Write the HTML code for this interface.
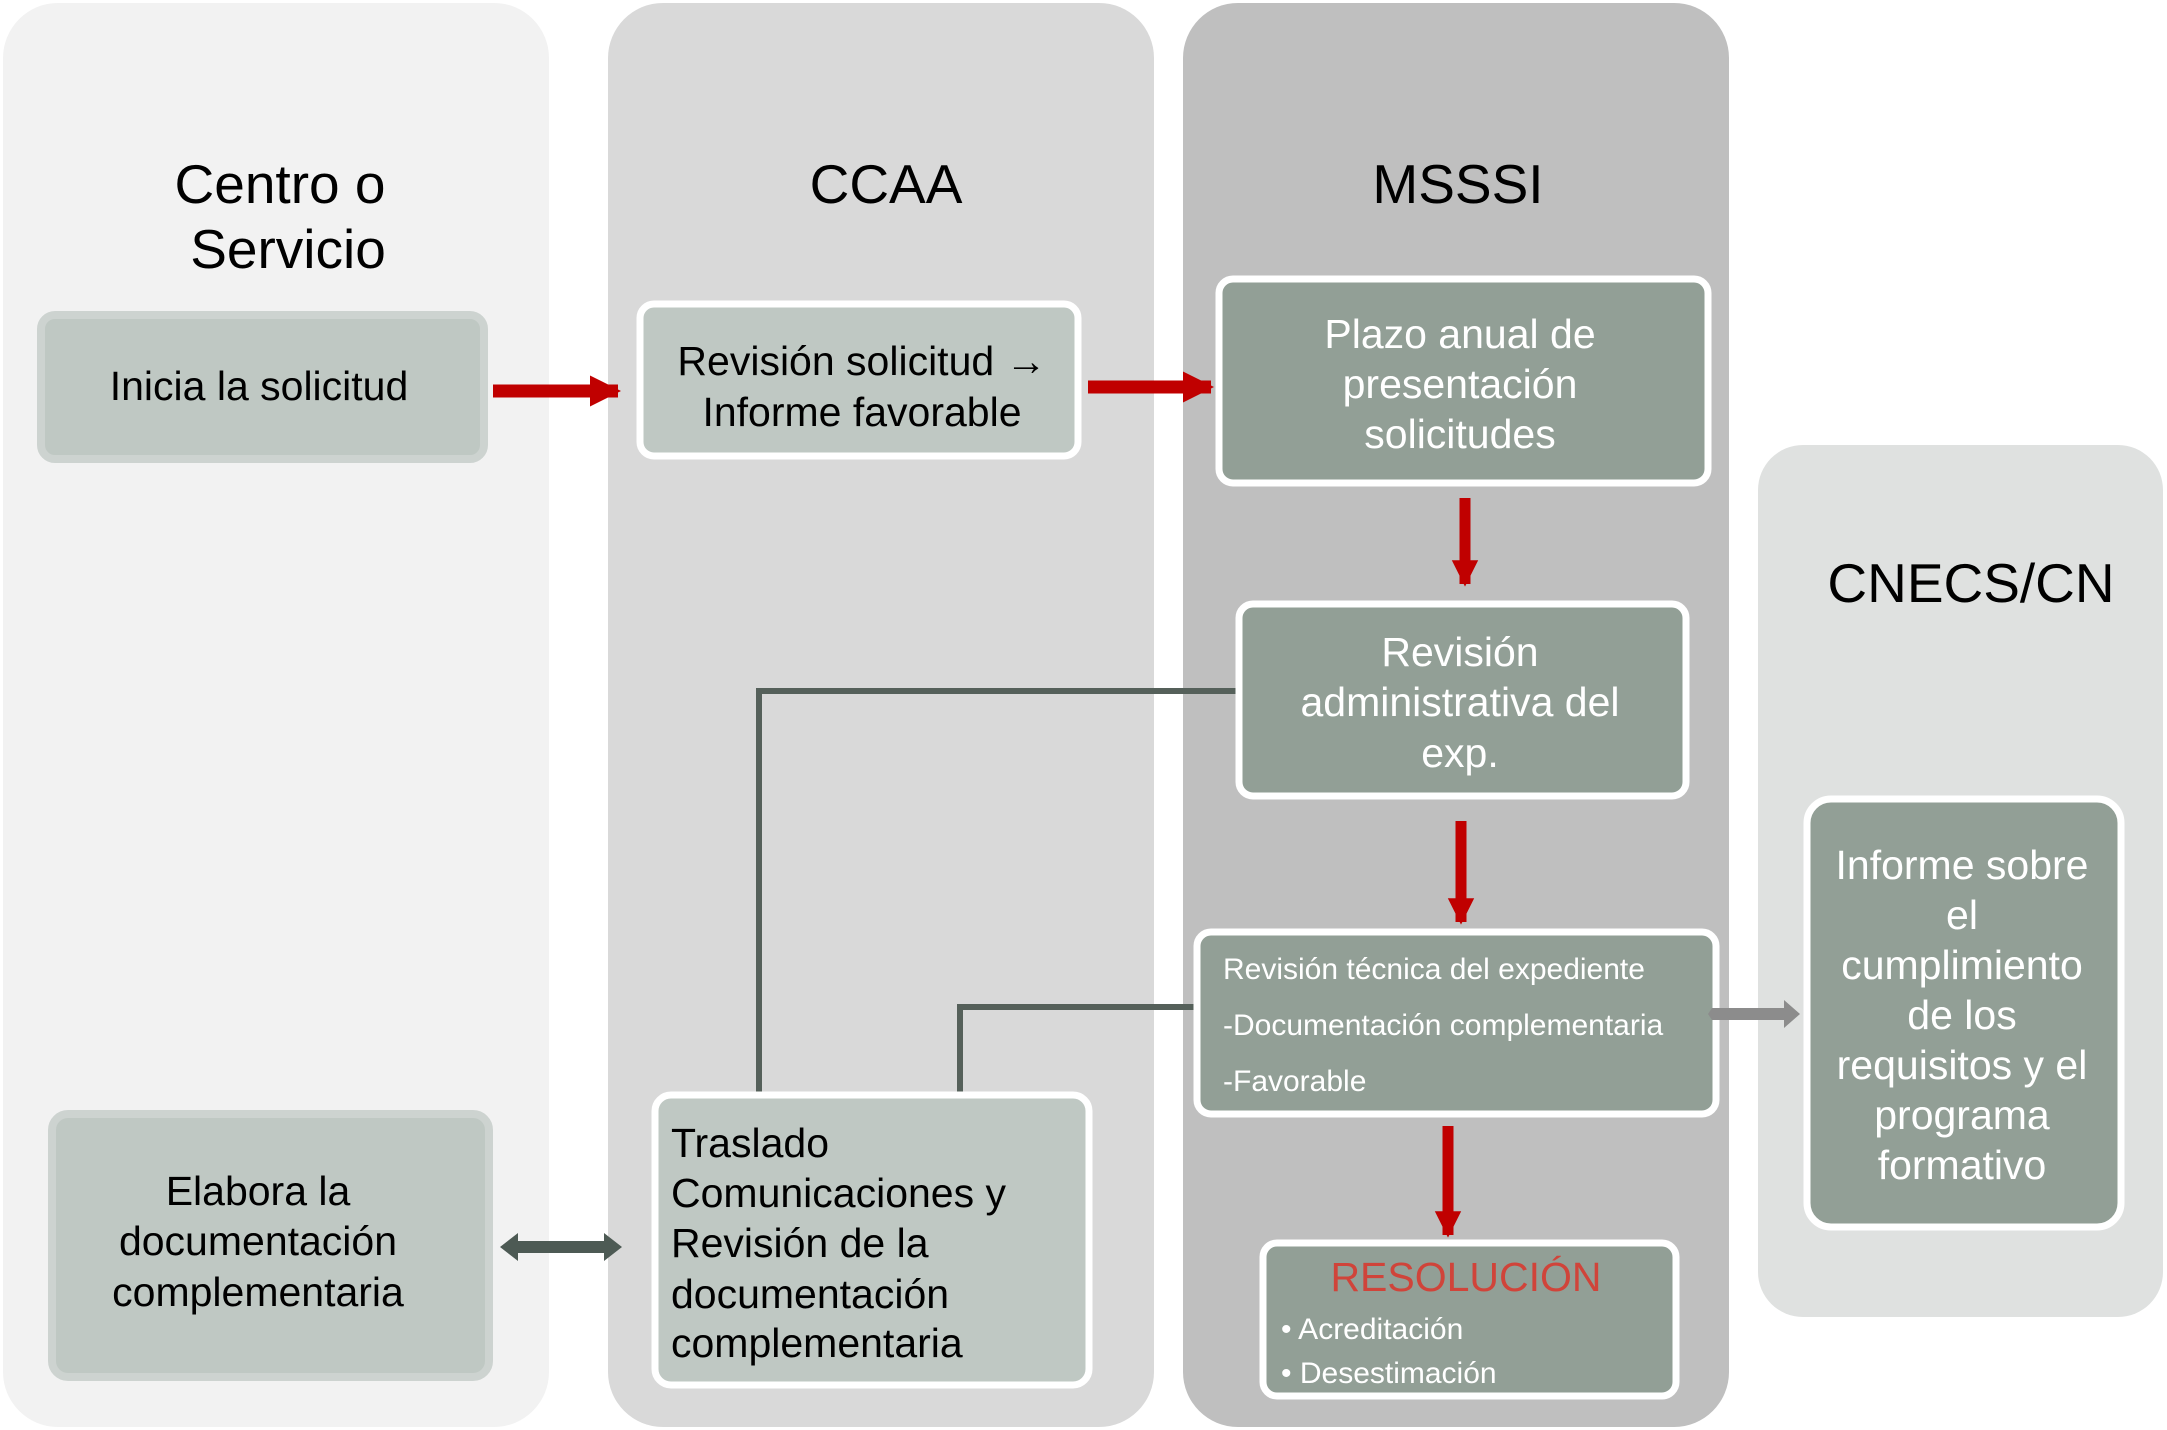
<!DOCTYPE html>
<html><head><meta charset="utf-8"><style>
html,body{margin:0;padding:0;background:#fff;}
svg{display:block;}
text{font-family:"Liberation Sans",Arial,sans-serif;}
</style></head><body>
<svg width="2167" height="1430" viewBox="0 0 2167 1430" xmlns="http://www.w3.org/2000/svg">
<defs>
<marker id="rh" viewBox="0 0 10 10" refX="9" refY="5" markerWidth="2.4" markerHeight="3.2" orient="auto" markerUnits="strokeWidth"><path d="M0,0 L10,5 L0,10 z" fill="#c00000"/></marker>
</defs>
<rect x="3" y="3" width="546" height="1424" rx="55" fill="#f2f2f2"/>
<rect x="608" y="3" width="546" height="1424" rx="55" fill="#d9d9d9"/>
<rect x="1183" y="3" width="546" height="1424" rx="55" fill="#bfbfbf"/>
<rect x="1758" y="445" width="405" height="872" rx="45" fill="#dfe1e0"/>

<g font-size="55" fill="#000" text-anchor="middle">
<text x="280" y="203">Centro o</text>
<text x="288" y="268">Servicio</text>
<text x="886" y="203">CCAA</text>
<text x="1458" y="203">MSSSI</text>
<text x="1971" y="602">CNECS/CN</text>
</g>

<polyline points="1236,691 759,691 759,1099" fill="none" stroke="#55605a" stroke-width="6"/>
<polyline points="1194,1007 960,1007 960,1099" fill="none" stroke="#55605a" stroke-width="6"/>

<rect x="41" y="315" width="443" height="144" rx="14" fill="#bfc8c3" stroke="#cdd3d0" stroke-width="8"/>
<rect x="640" y="304" width="438" height="152" rx="14" fill="#bfc8c3" stroke="#fff" stroke-width="7"/>
<rect x="1219" y="279" width="489" height="204" rx="14" fill="#929f96" stroke="#fff" stroke-width="7"/>
<rect x="1239" y="604" width="447" height="192" rx="14" fill="#929f96" stroke="#fff" stroke-width="7"/>
<rect x="1197" y="932" width="519" height="182" rx="14" fill="#929f96" stroke="#fff" stroke-width="7"/>
<rect x="1263" y="1243" width="413" height="153" rx="14" fill="#929f96" stroke="#fff" stroke-width="7"/>
<rect x="1807" y="799" width="314" height="428" rx="24" fill="#929f96" stroke="#fff" stroke-width="7"/>
<rect x="52" y="1114" width="437" height="263" rx="16" fill="#bfc8c3" stroke="#cdd3d0" stroke-width="8"/>
<rect x="655" y="1095" width="434" height="290" rx="16" fill="#bfc8c3" stroke="#fff" stroke-width="7"/>

<line x1="493" y1="391" x2="618" y2="391" stroke="#c00000" stroke-width="13" marker-end="url(#rh)"/>
<line x1="1088" y1="387" x2="1211" y2="387" stroke="#c00000" stroke-width="13" marker-end="url(#rh)"/>
<line x1="1465" y1="498" x2="1465" y2="584" stroke="#c00000" stroke-width="11" marker-end="url(#rh)"/>
<line x1="1461" y1="821" x2="1461" y2="922" stroke="#c00000" stroke-width="11" marker-end="url(#rh)"/>
<line x1="1448" y1="1126" x2="1448" y2="1235" stroke="#c00000" stroke-width="11" marker-end="url(#rh)"/>

<path d="M1712,1008 L1784,1008 L1784,1000 L1800,1014 L1784,1028 L1784,1020 L1712,1020 L1708,1014 z" fill="#8c8c8c"/>
<path d="M500,1247 L518,1233 L518,1241 L604,1241 L604,1233 L622,1247 L604,1261 L604,1253 L518,1253 L518,1261 z" fill="#4d5a54"/>

<g font-size="41" fill="#000" text-anchor="middle">
<text x="259" y="400">Inicia la solicitud</text>
<text x="862" y="375">Revisión solicitud →</text>
<text x="862" y="426">Informe favorable</text>
<text x="258" y="1205">Elabora la</text>
<text x="258" y="1255">documentación</text>
<text x="258" y="1306">complementaria</text>
</g>
<g font-size="41" fill="#000">
<text x="671" y="1157">Traslado</text>
<text x="671" y="1207">Comunicaciones y</text>
<text x="671" y="1257">Revisión de la</text>
<text x="671" y="1308">documentación</text>
<text x="671" y="1357">complementaria</text>
</g>
<g font-size="41" fill="#fff" text-anchor="middle">
<text x="1460" y="348">Plazo anual de</text>
<text x="1460" y="398">presentación</text>
<text x="1460" y="448">solicitudes</text>
<text x="1460" y="666">Revisión</text>
<text x="1460" y="716">administrativa del</text>
<text x="1460" y="767">exp.</text>
<text x="1962" y="879">Informe sobre</text>
<text x="1962" y="929">el</text>
<text x="1962" y="979">cumplimiento</text>
<text x="1962" y="1029">de los</text>
<text x="1962" y="1079">requisitos y el</text>
<text x="1962" y="1129">programa</text>
<text x="1962" y="1179">formativo</text>
</g>
<g font-size="30" fill="#fff">
<text x="1223" y="979">Revisión técnica del expediente</text>
<text x="1223" y="1035">-Documentación complementaria</text>
<text x="1223" y="1091">-Favorable</text>
<text x="1281" y="1339">• Acreditación</text>
<text x="1281" y="1383">• Desestimación</text>
</g>
<text x="1466" y="1291" font-size="41" fill="#d0443a" text-anchor="middle">RESOLUCIÓN</text>
</svg>
</body></html>
